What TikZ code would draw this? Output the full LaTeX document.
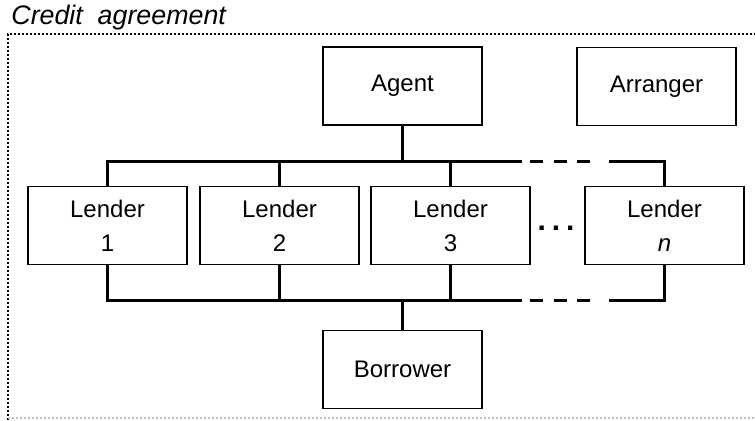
\documentclass[tikz,border=0pt]{standalone}
\usepackage{fontspec}
\setmainfont{Liberation Sans}
\usetikzlibrary{positioning,calc}
\tikzset{
  party/.style  = {shape=rectangle, draw, line width=0.7pt,
          minimum width=79.5pt, minimum height=39pt,
          align=center, inner sep=0pt,
          font=\fontsize{12}{17}\selectfont},
  bus/.style    = {line width=1.5pt},
  frame/.style  = {line width=1pt, dash pattern=on 1pt off 1pt}
}
\begin{document}
\begin{tikzpicture}
  [
    x = 0.5pt,
    y = -0.5pt
  ]
  \useasboundingbox (0,0) rectangle (755,420);
  % title and frame
  \node [anchor=base west, inner sep=0pt, font=\fontsize{13.4}{15}\selectfont\itshape]
    (title) at (11,24) {Credit\ \ agreement};
  \coordinate (fTL) at (8,34);
  \coordinate (fTR) at (755,34);
  \coordinate (fBL) at (8,420);
  \coordinate (fB)  at (8,418);
  \coordinate (fBR) at (755,418);
  \draw [frame] (fBL) -- (fTL) -- (fTR);
  \draw [frame, black!25] (fB) -- (fBR);

  % parties
  \node [party] (agent)    at (402.5,86)    {Agent};
  \node [party] (arranger) at (656.5,86.5)  {Arranger};
  \node [party] (l1)       at (107.5,225.5) {Lender\\1};
  \node [party] (l2)       at (279.5,225.5) {Lender\\2};
  \node [party] (l3)       at (450.5,225.5) {Lender\\3};
  \node [party] (ln)       at (664.5,225.5) {Lender\\\textit{n}};
  \node [party] (borrower) at (402.5,369.5) {Borrower};
  \node [anchor=base, inner sep=0pt, font=\fontsize{15}{15}\selectfont\bfseries]
    (dots) at (556,230) {.\hspace{3pt}.\hspace{3pt}.};

  % bus lines
  \coordinate (top)   at (0,161);
  \coordinate (bot)   at (0,300);
  \coordinate (gapL)  at (522,0);
  \coordinate (gapR)  at (609,0);
  \coordinate (dashL) at (530,0);
  \coordinate (dashR) at (590,0);

  \draw [bus] (l1.north) |- (gapL |- top);
  \draw [bus] (gapR |- top) -| (ln.north);
  \draw [bus, dash pattern=on 6.5pt off 5.25pt] (dashL |- top) -- (dashR |- top);
  \draw [bus] (l1.south) |- (gapL |- bot);
  \draw [bus] (gapR |- bot) -| (ln.south);
  \draw [bus, dash pattern=on 6.5pt off 5.25pt] (dashL |- bot) -- (dashR |- bot);

  \foreach \n in {agent.south, l2.north, l3.north}
    \draw [bus] (\n) -- (\n |- top);
  \foreach \n in {l2.south, l3.south, borrower.north}
    \draw [bus] (\n) -- (\n |- bot);
\end{tikzpicture}
\end{document}
